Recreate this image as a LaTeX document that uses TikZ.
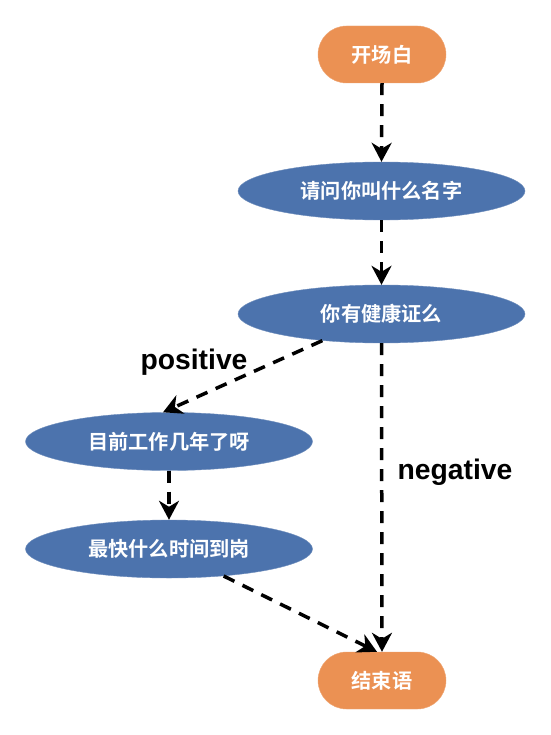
\documentclass[tikz,border=0pt]{standalone}
\usepackage{fontspec}
\setmainfont{Liberation Sans}
\newfontfamily\cjk{Noto Sans CJK SC}[BoldFont={Noto Sans CJK SC Bold}]
\usetikzlibrary{shapes.geometric,arrows.meta}
\definecolor{orangefill}{HTML}{EB9153}
\definecolor{bluefill}{HTML}{4C73AD}
\tikzset{
  endbox/.style={rectangle, fill=orangefill, draw=orangefill!80!white, rounded corners=28.5pt,
    minimum width=128pt, minimum height=57pt, inner sep=0pt, text=white,
    font=\cjk\bfseries\fontsize{20.2}{23}\selectfont},
  askbox/.style={ellipse, fill=bluefill, draw=bluefill!80!white, minimum width=287pt, minimum height=58pt,
    inner sep=0pt, text=white, font=\cjk\bfseries\fontsize{20.2}{23}\selectfont},
  flow/.style={line width=3.5pt, dash pattern=on 12pt off 9pt,
    -{Stealth[length=19pt, width=20pt, inset=6pt]}},
  lbl/.style={font=\bfseries\fontsize{28.3}{33}\selectfont, text=black, inner sep=0pt}
}
\begin{document}
\begin{tikzpicture}[x=1pt,y=-1pt]
\useasboundingbox[fill=white] (0,0) rectangle (550,735);
\node[endbox] (n1) at (382,54.5) {开场白};
\node[askbox] (n2) at (381.5,191) {请问你叫什么名字};
\node[askbox] (n3) at (381.5,314) {你有健康证么};
\node[askbox] (n4) at (169,441.5) {目前工作几年了呀};
\node[askbox] (n5) at (169,549) {最快什么时间到岗};
\node[endbox] (n6) at (382,680.5) {结束语};
\node[lbl] (lp) at (194,362) {positive};
\node[lbl] (ln) at (455,472) {negative};
\draw[flow] (n1.south) -- (n2.north);
\draw[flow] (n2.south) -- (n3.north);
\draw[flow] (n3) -- ([xshift=-6pt]n4.north);
\draw[flow] (n3.south) -- (n6.north);
\draw[flow] (n4.south) -- (n5.north);
\draw[flow] (n5) -- ([xshift=-5pt]n6.north);
\end{tikzpicture}
\end{document}
